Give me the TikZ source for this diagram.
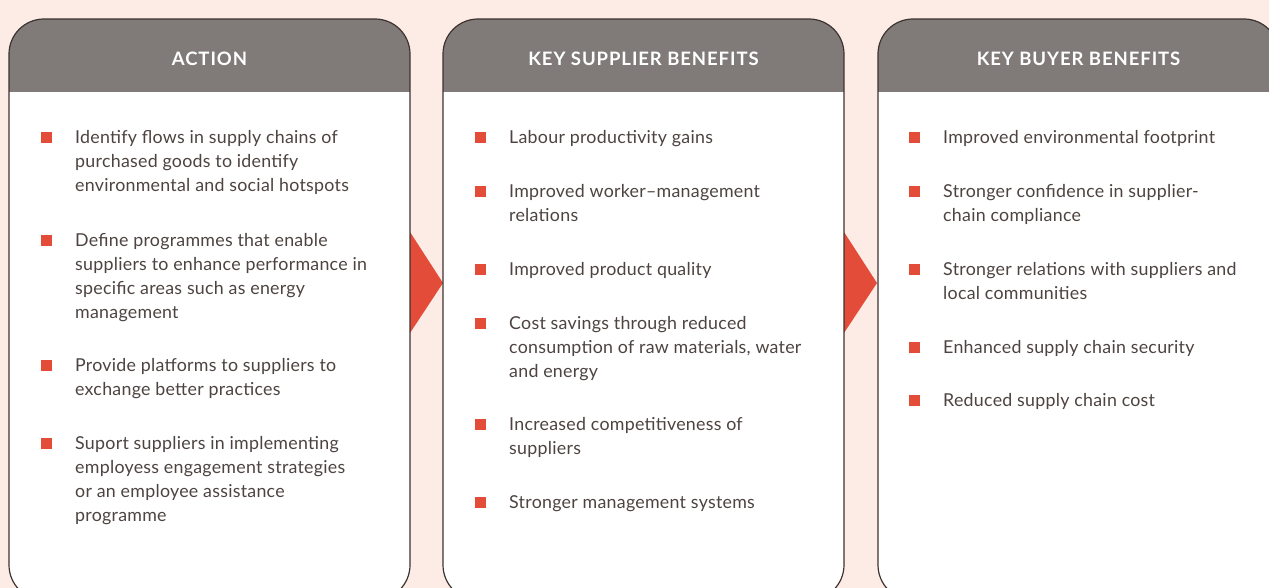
\documentclass[tikz,border=0pt]{standalone}
\usepackage{fontspec}
\setmainfont{Lato}[LetterSpace=1.5]
\newfontfamily\hdrfont{Lato}[LetterSpace=5]
\definecolor{bgpink}{RGB}{253,236,229}
\definecolor{hdrgray}{RGB}{128,123,120}
\definecolor{brd}{RGB}{61,51,48}
\definecolor{redsq}{RGB}{228,76,58}
\definecolor{txt}{RGB}{77,68,65}
\tikzset{
  itemtext/.style={anchor=north west, inner sep=0pt, align=left, text=txt,
    font=\fontsize{17.8}{24}\selectfont},
  bulletsq/.style={rectangle, fill=redsq, minimum size=11pt, inner sep=0pt},
  hdrtext/.style={text=white, font=\hdrfont\fontsize{18.5}{20}\selectfont\bfseries, inner sep=0pt},
  brdline/.style={draw=brd, line width=1.2pt},
}
\newcommand\mypanel[1]{%
  \begin{scope}
    \clip[rounded corners=35pt] (#1,19) rectangle ++(401,581);
    \fill[hdrgray] (#1,19) rectangle ++(401,73);
    \fill[white] (#1,92) rectangle ++(401,508);
  \end{scope}
  \draw[brdline, rounded corners=35pt] (#1,19) rectangle ++(401,581);
}
\newcommand\myitem[5]{% name, bulletx, textx, baseline, text
  \node[bulletsq] (#1b) at (#2,#4-5.5) {};
  \node[itemtext] (#1) at (#3,#4-16.8) {\strut #5};
}
\begin{document}
\begin{tikzpicture}[x=1pt,y=-1pt]
\useasboundingbox (0,0) rectangle (1269,588);
\fill[bgpink] (0,0) rectangle (1269,588);
% chevrons
\fill[redsq] (410,232) -- (443,283) -- (410,333) -- cycle;
\fill[redsq] (844,232) -- (877,283) -- (844,333) -- cycle;
\mypanel{9}
\mypanel{443}
\mypanel{878}
\node[hdrtext] (h1) at (209.5,59) {ACTION};
\node[hdrtext] (h2) at (643.5,59) {KEY SUPPLIER BENEFITS};
\node[hdrtext] (h3) at (1078.5,59) {KEY BUYER BENEFITS};
% panel 1
\myitem{a1}{46.5}{75}{143}{Identify flows in supply chains of\\purchased goods to identify\\environmental and social hotspots}
\myitem{a2}{46.5}{75}{246}{Define programmes that enable\\suppliers to enhance performance in\\specific areas such as energy\\management}
\myitem{a3}{46.5}{75}{371}{Provide platforms to suppliers to\\exchange better practices}
\myitem{a4}{46.5}{75}{449}{Suport suppliers in implementing\\employess engagement strategies\\or an employee assistance\\programme}
% panel 2
\myitem{s1}{480.5}{509}{143}{Labour productivity gains}
\myitem{s2}{480.5}{509}{197}{Improved worker--management\\relations}
\myitem{s3}{480.5}{509}{275}{Improved product quality}
\myitem{s4}{480.5}{509}{329}{Cost savings through reduced\\consumption of raw materials, water\\and energy}
\myitem{s5}{480.5}{509}{430}{Increased competitiveness of\\suppliers}
\myitem{s6}{480.5}{509}{508}{Stronger management systems}
% panel 3
\myitem{k1}{914.5}{943}{143}{Improved environmental footprint}
\myitem{k2}{914.5}{943}{197}{Stronger confidence in supplier-\\chain compliance}
\myitem{k3}{914.5}{943}{275}{Stronger relations with suppliers and\\local communities}
\myitem{k4}{914.5}{943}{353}{Enhanced supply chain security}
\myitem{k5}{914.5}{943}{406}{Reduced supply chain cost}
\end{tikzpicture}
\end{document}
